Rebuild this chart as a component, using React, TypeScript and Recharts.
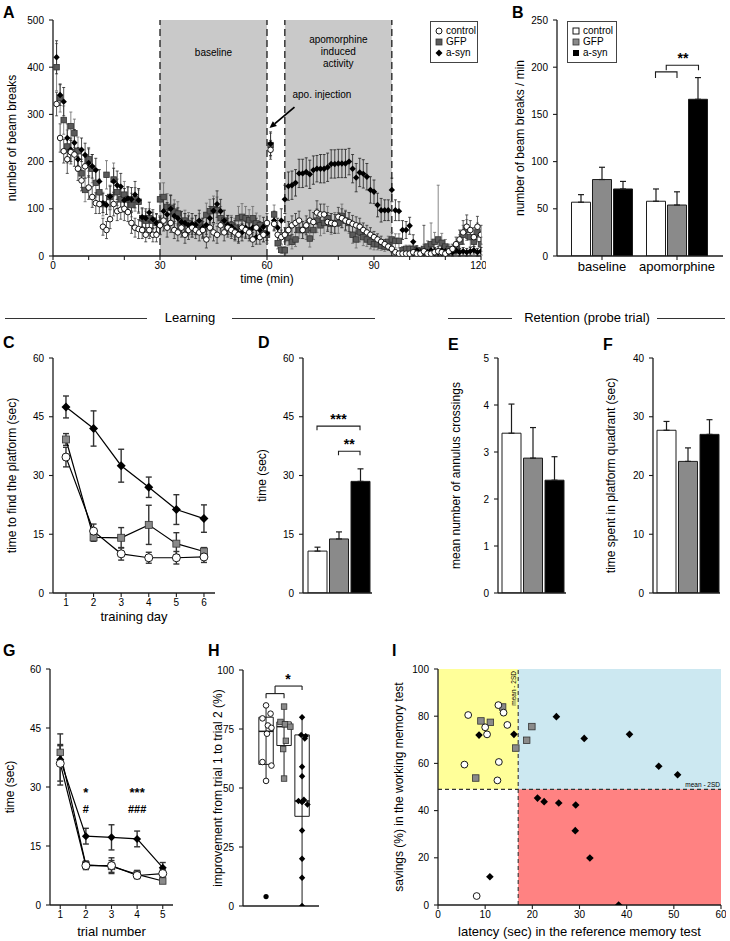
import React from 'react';
import {
  ComposedChart, Bar, Line, Scatter, XAxis, YAxis, ErrorBar,
  ReferenceArea, ReferenceLine, ReferenceDot,
} from 'recharts';

const FONT = '"Liberation Sans", Arial, Helvetica, sans-serif';
const INK = '#1c1c1c';
const SHADE = '#c9c9c9';
const GFP_FILL = '#8a8a8a';
const GFP_DARK = '#5a5a5a';

const groups = ['control', 'GFP', 'a-syn'];

// ---- A: beam breaks per minute (t = 1..120) ----
const minuteTicks = [0, 10, 20, 30, 40, 50, 60, 70, 80, 90, 100, 110, 120];
const breakTicks = [0, 100, 200, 300, 400, 500];
const phaseEdges = [30, 60, 65, 95];

const ctlBreaks = [
  322, 250, 222, 205, 220, 215, 185, 160, 190, 145,
  125, 112, 110, 62, 55, 78, 110, 95, 98, 100,
  93, 70, 60, 57, 55, 45, 55, 45, 45, 65,
  75, 60, 70, 55, 50, 60, 45, 55, 60, 55,
  50, 55, 35, 60, 50, 45, 65, 50, 60, 55,
  50, 45, 60, 55, 50, 35, 60, 40, 45, 70,
  225, 68, 45, 40, 45, 55, 65, 70, 75, 55,
  65, 75, 72, 92, 88, 88, 72, 70, 68, 83,
  80, 75, 72, 68, 65, 62, 55, 50, 45, 40,
  35, 30, 25, 20, 15, 8, 5, 5, 5, 5,
  8, 5, 5, 10, 5, 5, 8, 10, 8, 5,
  10, 15, 25, 35, 50, 62, 55, 40, 62, 45,
];
const ctlBreaksErr = [
  25, 30, 25, 30, 25, 25, 25, 22, 25, 25,
  22, 22, 20, 18, 18, 20, 25, 20, 20, 25,
  20, 22, 20, 20, 18, 15, 18, 15, 15, 20,
  22, 20, 20, 18, 18, 20, 18, 20, 20, 18,
  18, 18, 18, 20, 18, 18, 20, 18, 20, 18,
  18, 18, 20, 18, 18, 15, 20, 15, 15, 20,
  20, 15, 15, 15, 15, 18, 20, 20, 20, 18,
  20, 22, 20, 25, 22, 22, 20, 20, 20, 20,
  20, 20, 20, 18, 18, 18, 15, 15, 15, 12,
  12, 12, 10, 8, 8, 5, 5, 5, 5, 5,
  8, 5, 5, [10, 55], 5, 5, 8, 10, 8, 5,
  8, 10, 15, 20, 25, 25, 20, 20, 22, 20,
];

const gfpBreaks = [
  400, 335, 288, 232, 275, 260, 222, 175, 140, 205,
  185, 155, 135, 110, 172, 125, 162, 135, 120, 130,
  120, 108, 120, 115, 80, 75, 80, 75, 70, 120,
  125, 104, 102, 94, 90, 73, 75, 70, 60, 65,
  70, 60, 87, 95, 99, 97, 80, 75, 65, 66,
  60, 80, 83, 80, 76, 80, 69, 65, 48, 45,
  235, 88, 27, 13, 12, 38, 30, 35, 55, 55,
  55, 37, 55, 75, 65, 70, 80, 68, 70, 70,
  85, 75, 70, 45, 35, 50, 40, 35, 30, 25,
  25, 22, 20, 30, 35, 32, 32, 12, 15, 15,
  15, 12, 10, 15, 20, 25, 30, 35, 28, 20,
  15, 10, 15, 30, 45, 55, 40, 30, 50, 25,
];
const gfpBreaksErr = [
  50, 30, 30, 35, 30, 30, 30, 30, 25, 25,
  30, 30, 28, 25, 30, 25, 35, 28, 25, 28,
  25, 25, 25, 25, 20, 20, 20, 18, 18, 35,
  30, 28, 28, 25, 25, 22, 22, 22, 20, 20,
  20, 20, 25, 25, 28, 28, 25, 22, 20, 20,
  20, 25, 28, 25, 22, 25, 22, 20, 18, 18,
  25, 20, 12, 8, 8, 15, 15, 15, 18, 18,
  20, 18, 20, 25, 22, 22, 25, 22, 22, 22,
  25, 22, 22, 18, 18, 20, 18, 15, 15, 12,
  12, 10, 10, 12, 15, 15, 15, 8, 8, 8,
  8, 8, 8, 10, 12, [20, 45], 20, [30, 115], 20, 15,
  10, 8, 10, 15, 20, 22, 20, 15, 20, 15,
];

const synBreaks = [
  421, 341, 327, 250, 225, 240, 205, 225, 214, 197,
  190, 182, 158, 112, 108, 126, 158, 150, 147, 118,
  122, 120, 130, 118, 82, 80, 92, 78, 70, 64,
  95, 88, 100, 85, 80, 72, 70, 65, 68, 66,
  75, 60, 66, 80, 96, 110, 95, 75, 66, 62,
  55, 48, 50, 60, 55, 60, 40, 55, 62, 48,
  238, 75, 60, 75, 120, 148, 150, 155, 175, 175,
  178, 173, 182, 185, 185, 185, 188, 195, 195, 196,
  196, 196, 200, 185, 166, 177, 174, 168, 140, 136,
  108, 97, 97, 97, 140, 97, 95, 55, 55, 64,
  30, 12, 8, 10, 8, 12, 10, 8, 12, 10,
  10, 8, 12, 8, 10, 8, 10, 12, 8, 10,
];
const synBreaksErr = [
  35, 22, 30, 30, 25, 28, 25, 25, 25, 30,
  25, 25, 25, 20, 20, 22, 28, 30, 28, 25,
  25, 25, 28, 25, 20, 20, 22, 20, 20, 18,
  30, 25, 28, 25, 22, 22, 20, 20, 22, 20,
  22, 20, 20, 25, 25, 28, 25, 22, 20, 20,
  20, 18, 18, 20, 18, 20, 15, 18, 20, 15,
  25, 20, 20, 25, 30, 30, 30, 28, 30, 30,
  30, 30, 30, 28, 30, 30, 30, 30, 30, 30,
  30, 30, 28, 30, 30, 30, 30, 28, 28, 25,
  25, 25, 22, 22, 25, 22, 20, 20, 18, 18,
  15, 10, 8, 8, 8, 8, 8, 8, 8, 8,
  8, 8, 8, 8, 8, 8, 8, 8, 8, 8,
];

// ---- B: mean beam breaks / min ----
const phaseNames = ['baseline', 'apomorphine'];
const rateTicks = [0, 50, 100, 150, 200, 250];
const ctlRate = [57, 58];
const ctlRateErr = [8, 13];
const gfpRate = [81, 54];
const gfpRateErr = [13, 14];
const synRate = [71, 166];
const synRateErr = [8, 23];

// ---- C: learning curve ----
const days = [1, 2, 3, 4, 5, 6];
const secTicks = [0, 15, 30, 45, 60];
const ctlDay = [34.7, 15.8, 10, 9, 9, 9.2];
const ctlDayErr = [2.5, 1.8, 1.6, 1.4, 1.6, 1.4];
const gfpDay = [39.2, 14.2, 14.1, 17.4, 12.6, 10.6];
const gfpDayErr = [1.5, 1, 2.6, 5, 2.8, 1];
const synDay = [47.5, 42, 32.5, 27, 21.3, 19];
const synDayErr = [2.8, 4.5, 4.2, 2.6, 3.8, 3.5];

// ---- D/E/F: group means ----
const latencyMean = [10.7, 13.8, 28.5];
const latencyErr = [1, 1.8, 3.2];
const crossTicks = [0, 1, 2, 3, 4, 5];
const crossMean = [3.4, 2.87, 2.4];
const crossErr = [0.62, 0.65, 0.5];
const quadTicks = [0, 10, 20, 30, 40];
const quadMean = [27.7, 22.4, 27];
const quadErr = [1.5, 2.3, 2.5];

// ---- G: working memory trials ----
const trials = [1, 2, 3, 4, 5];
const ctlTrial = [36, 10, 10, 7.5, 8];
const ctlTrialErr = [4.5, 1, 2, 0.8, 1];
const gfpTrial = [38.8, 10.2, 9.8, 7.8, 6.1];
const gfpTrialErr = [2, 1, 1.5, 1, 0.5];
const synTrial = [37, 17.5, 17.2, 16.8, 9.5];
const synTrialErr = [6.5, 2, 3.2, 2, 1.3];

// ---- H: improvement trial 1 -> 2 (%), x = group + jitter ----
const pctTicks = [0, 25, 50, 75, 100];
const ctlImprove = [
  { x: 1.0, y: 85 }, { x: 1.25, y: 81.5 }, { x: 0.8, y: 79.5 }, { x: 1.1, y: 76.5 }, { x: 1.3, y: 75.5 },
  { x: 1.05, y: 73 }, { x: 0.8, y: 61 }, { x: 1.3, y: 59.5 }, { x: 1.0, y: 53 },
];
const ctlOutlier = [{ x: 1.0, y: 4 }];
const gfpImprove = [
  { x: 2.0, y: 84.5 }, { x: 1.8, y: 78 }, { x: 2.05, y: 77 }, { x: 2.35, y: 76 },
  { x: 2.1, y: 70 }, { x: 1.95, y: 66.5 }, { x: 2.0, y: 54 },
];
const synImprove = [
  { x: 3.0, y: 80 }, { x: 2.95, y: 72.5 }, { x: 3.2, y: 72 }, { x: 3.15, y: 71 }, { x: 3.0, y: 59 },
  { x: 3.0, y: 55 }, { x: 3.1, y: 45 }, { x: 2.8, y: 44.5 }, { x: 3.0, y: 44 }, { x: 3.3, y: 43 },
  { x: 3.0, y: 32 }, { x: 3.0, y: 20 }, { x: 3.0, y: 12 }, { x: 3.0, y: 0 },
];
const boxQ1 = [60, 68, 38];
const boxMedian = [74, 76, 44.5];
const boxQ3 = [80, 78, 72.5];
const boxMin = [53, 54, 0];
const boxMax = [85, 84.5, 80];

// ---- I: latency vs savings ----
const latencyTicks = [0, 10, 20, 30, 40, 50, 60];
const savingsTicks = [0, 20, 40, 60, 80, 100];
const latencyCut = 17;
const savingsCut = 49;
const ctlSavings = [
  { x: 6.4, y: 80.5 }, { x: 12.8, y: 84.7 }, { x: 13.9, y: 81.5 }, { x: 10.0, y: 75.3 }, { x: 14.7, y: 76.3 },
  { x: 10.4, y: 72.3 }, { x: 5.6, y: 59.5 }, { x: 12.9, y: 60.6 }, { x: 12.6, y: 52.8 }, { x: 8.2, y: 3.8 },
];
const gfpSavings = [
  { x: 9.1, y: 78.0 }, { x: 11.1, y: 77.4 }, { x: 13.7, y: 83.9 }, { x: 16.5, y: 66.5 },
  { x: 18.8, y: 69.8 }, { x: 19.9, y: 75.6 }, { x: 8.0, y: 53.8 },
];
const synSavings = [
  { x: 8.7, y: 72.0 }, { x: 16.1, y: 72.3 }, { x: 25.1, y: 79.8 }, { x: 31.0, y: 70.6 }, { x: 40.6, y: 72.3 },
  { x: 46.8, y: 58.8 }, { x: 50.8, y: 55.2 }, { x: 21.1, y: 45.3 }, { x: 22.5, y: 43.8 }, { x: 25.6, y: 43.2 },
  { x: 29.2, y: 42.4 }, { x: 29.1, y: 31.5 }, { x: 32.2, y: 19.9 }, { x: 38.3, y: 0 }, { x: 11.0, y: 12.0 },
];

// ---------- helpers ----------
const frame = (L: number, T: number, R: number, B: number, pl: number, pt: number, pr: number, pb: number) => ({
  style: { position: 'absolute', left: L - pl, top: T - pt } as React.CSSProperties,
  width: pl + (R - L) + pr,
  height: pt + (B - T) + pb,
  margin: { top: pt, right: pr, bottom: 0, left: 0 },
  yw: pl,
  xh: pb,
});

const axisProps = {
  axisLine: { stroke: INK, strokeWidth: 1.3 },
  tickLine: { stroke: INK, strokeWidth: 1.1 },
  tickSize: 4,
  tick: { fontSize: 10, fill: '#000', fontFamily: FONT },
};

const yLabel = (value: string, offset: number, size = 12) => ({
  value, angle: -90, position: 'insideLeft', offset,
  style: { textAnchor: 'middle', fontSize: size, fontFamily: FONT, fill: '#000' },
});
const xLabel = (value: string, offset: number, size = 13) => ({
  value, position: 'insideBottom', offset,
  style: { textAnchor: 'middle', fontSize: size, fontFamily: FONT, fill: '#000' },
});

const openCircle = (r: number) => (p: any) => (
  <circle key={p.index} cx={p.cx} cy={p.cy} r={r} fill="#fff" stroke="#000" strokeWidth={0.9} />
);
const dotCircle = (r: number) => (p: any) => (
  <circle key={p.index} cx={p.cx} cy={p.cy} r={r} fill="#000" />
);
const square = (s: number, fill: string) => (p: any) => (
  <rect key={p.index} x={p.cx - s / 2} y={p.cy - s / 2} width={s} height={s} fill={fill} stroke="#333" strokeWidth={0.8} />
);
const diamond = (h: number) => (p: any) => (
  <polygon key={p.index} points={`${p.cx},${p.cy - h} ${p.cx + h},${p.cy} ${p.cx},${p.cy + h} ${p.cx - h},${p.cy}`} fill="#000" />
);
const note = (text: string, size = 13) => (p: any) => (
  <text x={p.cx} y={p.cy} textAnchor="middle" fontSize={size} fontWeight="bold" fontFamily={FONT} fill="#000">{text}</text>
);
const bracket = (from: number, to: number, leg: number, text: string, textX: number) => (p: any) => (
  <g>
    <path d={`M${p.cx + from},${p.cy + leg}V${p.cy}H${p.cx + to}V${p.cy + leg}`} fill="none" stroke={INK} strokeWidth={1.1} />
    <text x={p.cx + textX} y={p.cy - 2} textAnchor="middle" fontSize={14} fontWeight="bold" fontFamily={FONT}>{text}</text>
  </g>
);

const areaText = (lines: string[], y0: number) => (props: any) => {
  const { x, y, width } = props.viewBox;
  return (
    <text x={x + width / 2} y={y + y0} textAnchor="middle" fontSize={10} fontFamily={FONT} fill="#000">
      {lines.map((l, i) => <tspan key={l} x={x + width / 2} dy={i === 0 ? 0 : 12}>{l}</tspan>)}
    </text>
  );
};

const injectionArrow = (p: any) => {
  const { cx, cy } = p;
  const tx = cx + 25, ty = cy - 21;
  const len = Math.hypot(tx - cx, ty - cy);
  const ux = (tx - cx) / len, uy = (ty - cy) / len;
  const bx = cx + ux * 7, by = cy + uy * 7;
  return (
    <g>
      <line x1={bx} y1={by} x2={tx} y2={ty} stroke="#000" strokeWidth={1.8} />
      <polygon points={`${cx},${cy} ${bx - uy * 3.2},${by + ux * 3.2} ${bx + uy * 3.2},${by - ux * 3.2}`} fill="#000" />
      <text x={cx + 23} y={cy - 30} fontSize={10} fontFamily={FONT}>apo. injection</text>
    </g>
  );
};

const pts = (vals: number[], errs: any[]) => vals.map((v, i) => ({ t: i + 1, v, e: errs[i] }));

function LegendBox({ left, top, width, symbols }: any) {
  return (
    <div style={{
      position: 'absolute', left, top, width, height: 42, border: '1px solid #444', boxSizing: 'border-box',
      padding: '3px 0 0 3px', background: '#fff', fontFamily: FONT,
    }}>
      {groups.map((g, i) => (
        <div key={g} style={{ display: 'flex', alignItems: 'center', height: 11, fontSize: 10, lineHeight: '11px' }}>
          <svg width={10} height={10} style={{ marginRight: 2 }}>{symbols[i]}</svg>{g}
        </div>
      ))}
    </div>
  );
}

// ---------- panels ----------
function PanelA() {
  const f = frame(53, 20, 481, 256, 50, 10, 5, 32);
  return (
    <div style={f.style}>
      <ComposedChart width={f.width} height={f.height} margin={f.margin}>
        <XAxis type="number" dataKey="t" domain={[0, 120]} ticks={minuteTicks} allowDataOverflow height={f.xh}
          tickFormatter={(v: number) => (v % 30 === 0 ? String(v) : '')} {...axisProps}
          label={xLabel('time (min)', 5, 12)} />
        <YAxis type="number" dataKey="v" domain={[0, 500]} ticks={breakTicks} allowDataOverflow width={f.yw}
          tickMargin={5} {...axisProps} label={yLabel('number of beam breaks', 9)} />
        <ReferenceArea x1={30} x2={60} y1={0} y2={500} fill={SHADE} fillOpacity={1} stroke="none"
          label={areaText(['baseline'], 35.5)} />
        <ReferenceArea x1={65} x2={95} y1={0} y2={500} fill={SHADE} fillOpacity={1} stroke="none"
          label={areaText(['apomorphine', 'induced', 'activity'], 22.5)} />
        {phaseEdges.map((x) => (
          <ReferenceLine key={x} x={x} stroke={INK} strokeWidth={1.3} strokeDasharray="7 4" />
        ))}
        <Scatter data={pts(gfpBreaks, gfpBreaksErr)} dataKey="v" shape={square(5.5, GFP_DARK)} isAnimationActive={false}>
          <ErrorBar dataKey="e" direction="y" width={1.5} stroke="#6a6a6a" strokeWidth={0.8} isAnimationActive={false} />
        </Scatter>
        <Scatter data={pts(synBreaks, synBreaksErr)} dataKey="v" shape={diamond(3.2)} isAnimationActive={false}>
          <ErrorBar dataKey="e" direction="y" width={1.5} stroke="#222" strokeWidth={0.8} isAnimationActive={false} />
        </Scatter>
        <Scatter data={pts(ctlBreaks, ctlBreaksErr)} dataKey="v" shape={openCircle(2.8)} isAnimationActive={false}>
          <ErrorBar dataKey="e" direction="y" width={1.5} stroke="#333" strokeWidth={0.8} isAnimationActive={false} />
        </Scatter>
        <ReferenceDot x={60.7} y={271} shape={injectionArrow} />
      </ComposedChart>
    </div>
  );
}

function PanelB() {
  const f = frame(557, 20, 723, 256, 45, 10, 5, 30);
  const data = phaseNames.map((p, i) => ({
    phase: p,
    ctl: ctlRate[i], ctlE: [0, ctlRateErr[i]],
    gfp: gfpRate[i], gfpE: [0, gfpRateErr[i]],
    syn: synRate[i], synE: [0, synRateErr[i]],
  }));
  return (
    <div style={f.style}>
      <ComposedChart width={f.width} height={f.height} margin={f.margin} data={data} barGap={2}>
        <XAxis dataKey="phase" type="category" padding={{ left: 7.5, right: 8.5 }} height={f.xh}
          {...axisProps} tick={{ fontSize: 13, fill: '#000', fontFamily: FONT }} />
        <YAxis type="number" domain={[0, 250]} ticks={rateTicks} allowDataOverflow width={f.yw} tickMargin={5}
          {...axisProps} label={yLabel('number of beam breaks / min', 8)} />
        <Bar dataKey="ctl" barSize={19} fill="#fff" stroke={INK} strokeWidth={1} isAnimationActive={false}>
          <ErrorBar dataKey="ctlE" direction="y" width={3} stroke={INK} strokeWidth={1.2} isAnimationActive={false} />
        </Bar>
        <Bar dataKey="gfp" barSize={19} fill={GFP_FILL} stroke={INK} strokeWidth={1} isAnimationActive={false}>
          <ErrorBar dataKey="gfpE" direction="y" width={3} stroke={INK} strokeWidth={1.2} isAnimationActive={false} />
        </Bar>
        <Bar dataKey="syn" barSize={19} fill="#000" stroke={INK} strokeWidth={1} isAnimationActive={false}>
          <ErrorBar dataKey="synE" direction="y" width={3} stroke={INK} strokeWidth={1.2} isAnimationActive={false} />
        </Bar>
        <ReferenceDot x="apomorphine" y={195} shape={bracket(-21.5, 0, 6, '', 0)} />
        <ReferenceDot x="apomorphine" y={202} shape={bracket(-10.75, 21.5, 5, '**', 6)} />
      </ComposedChart>
    </div>
  );
}

function TrioLines({ f, xs, xDomain, yTicks, ctl, ctlE, gfp, gfpE, syn, synE, xName, xOff, yName, yOff, size, children }: any) {
  const data = xs.map((x: number, i: number) => ({
    x, ctl: ctl[i], ctlE: ctlE[i], gfp: gfp[i], gfpE: gfpE[i], syn: syn[i], synE: synE[i],
  }));
  const eb = { direction: 'y', width: 3, stroke: '#333', strokeWidth: 1.4, isAnimationActive: false };
  return (
    <div style={f.style}>
      <ComposedChart width={f.width} height={f.height} margin={f.margin} data={data}>
        <XAxis type="number" dataKey="x" domain={xDomain} ticks={xs} allowDataOverflow height={f.xh}
          {...axisProps} label={xLabel(xName, xOff)} />
        <YAxis type="number" domain={[0, 60]} ticks={yTicks} allowDataOverflow width={f.yw} tickMargin={5}
          {...axisProps} label={yLabel(yName, yOff)} />
        <Line dataKey="syn" type="linear" stroke="#000" strokeWidth={1.2} dot={diamond(size.d)} isAnimationActive={false}>
          <ErrorBar dataKey="synE" {...eb} />
        </Line>
        <Line dataKey="gfp" type="linear" stroke="#000" strokeWidth={1.2} dot={square(size.s, GFP_FILL)} isAnimationActive={false}>
          <ErrorBar dataKey="gfpE" {...eb} />
        </Line>
        <Line dataKey="ctl" type="linear" stroke="#000" strokeWidth={1.2} dot={openCircle(size.c)} isAnimationActive={false}>
          <ErrorBar dataKey="ctlE" {...eb} />
        </Line>
        {children}
      </ComposedChart>
    </div>
  );
}

function TrioBars({ f, pad, max, ticks, mean, err, yName, yOff, children }: any) {
  const data = [{
    g: 'all',
    ctl: mean[0], ctlE: [0, err[0]],
    gfp: mean[1], gfpE: [0, err[1]],
    syn: mean[2], synE: [0, err[2]],
  }];
  const eb = { direction: 'y', width: 3, stroke: INK, strokeWidth: 1.2, isAnimationActive: false };
  return (
    <div style={f.style}>
      <ComposedChart width={f.width} height={f.height} margin={f.margin} data={data} barGap={2.5}>
        <XAxis dataKey="g" type="category" padding={{ left: pad, right: 0 }} height={f.xh} {...axisProps}
          tick={false} tickLine={false} />
        <YAxis type="number" domain={[0, max]} ticks={ticks} allowDataOverflow width={f.yw} tickMargin={5}
          {...axisProps} label={yLabel(yName, yOff)} />
        <Bar dataKey="ctl" barSize={19} fill="#fff" stroke={INK} strokeWidth={1} isAnimationActive={false}>
          <ErrorBar dataKey="ctlE" {...eb} />
        </Bar>
        <Bar dataKey="gfp" barSize={19} fill={GFP_FILL} stroke={INK} strokeWidth={1} isAnimationActive={false}>
          <ErrorBar dataKey="gfpE" {...eb} />
        </Bar>
        <Bar dataKey="syn" barSize={19} fill="#000" stroke={INK} strokeWidth={1} isAnimationActive={false}>
          <ErrorBar dataKey="synE" {...eb} />
        </Bar>
        {children}
      </ComposedChart>
    </div>
  );
}

function PanelH() {
  const f = frame(243, 670, 319, 906, 48, 10, 5, 30);
  const centers = [1, 2, 3];
  const half = 0.4;
  const seg = (x1: number, y1: number, x2: number, y2: number) => [{ x: x1, y: y1 }, { x: x2, y: y2 }];
  const sig = [
    seg(1, 88, 1, 90), seg(1, 90, 2, 90), seg(2, 90, 2, 88),
    seg(1.5, 90, 1.5, 93.2), seg(1.5, 93.2, 3, 93.2), seg(3, 93.2, 3, 91.5),
  ];
  return (
    <div style={f.style}>
      <ComposedChart width={f.width} height={f.height} margin={f.margin}>
        <XAxis type="number" dataKey="x" domain={[-0.28, 3.94]} allowDataOverflow height={f.xh} {...axisProps}
          tick={false} tickLine={false} />
        <YAxis type="number" dataKey="y" domain={[0, 100]} ticks={pctTicks} allowDataOverflow width={f.yw} tickMargin={5}
          {...axisProps} label={yLabel('improvement from trial 1 to trial 2 (%)', 23)} />
        {centers.map((c, i) => (
          <ReferenceLine key={`w${c}`} segment={seg(c, boxMin[i], c, boxMax[i])} stroke={INK} strokeWidth={1} />
        ))}
        {centers.map((c, i) => (
          <ReferenceArea key={`b${c}`} x1={c - half} x2={c + half} y1={boxQ1[i]} y2={boxQ3[i]}
            fill="#fff" fillOpacity={0} stroke={INK} strokeWidth={1} />
        ))}
        {centers.map((c, i) => (
          <ReferenceLine key={`m${c}`} segment={seg(c - half, boxMedian[i], c + half, boxMedian[i])} stroke={INK} strokeWidth={1.5} />
        ))}
        {sig.map((s, i) => (
          <ReferenceLine key={`s${i}`} segment={s} stroke={INK} strokeWidth={1.1} />
        ))}
        <ReferenceDot x={2.22} y={94} shape={note('*', 14)} />
        <Scatter data={gfpImprove} dataKey="y" shape={square(5.5, GFP_FILL)} isAnimationActive={false} />
        <Scatter data={synImprove} dataKey="y" shape={diamond(3.2)} isAnimationActive={false} />
        <Scatter data={ctlImprove} dataKey="y" shape={openCircle(2.8)} isAnimationActive={false} />
        <Scatter data={ctlOutlier} dataKey="y" shape={dotCircle(2.6)} isAnimationActive={false} />
      </ComposedChart>
    </div>
  );
}

function PanelI() {
  const f = frame(438, 669, 721, 905, 45, 10, 5, 36);
  const vLabel = (props: any) => {
    const { x, y } = props.viewBox;
    return (
      <text x={x - 2.5} y={y + 2} transform={`rotate(-90 ${x - 2.5} ${y + 2})`} textAnchor="end" fontSize={6.5} fontFamily={FONT}>
        mean - 2SD
      </text>
    );
  };
  const hLabel = (props: any) => {
    const { x, y, width } = props.viewBox;
    return (
      <text x={x + width - 1} y={y - 2} textAnchor="end" fontSize={6.5} fontFamily={FONT}>mean - 2SD</text>
    );
  };
  return (
    <div style={f.style}>
      <ComposedChart width={f.width} height={f.height} margin={f.margin}>
        <XAxis type="number" dataKey="x" domain={[0, 60]} ticks={latencyTicks} allowDataOverflow height={f.xh}
          {...axisProps} label={xLabel('latency (sec) in the reference memory test', 5)} />
        <YAxis type="number" dataKey="y" domain={[0, 100]} ticks={savingsTicks} allowDataOverflow width={f.yw} tickMargin={5}
          {...axisProps} label={yLabel('savings (%) in the working memory test', 6)} />
        <ReferenceArea x1={0} x2={latencyCut} y1={savingsCut} y2={100} fill="#ffff99" fillOpacity={1} stroke="none" />
        <ReferenceArea x1={latencyCut} x2={60} y1={savingsCut} y2={100} fill="#cce8f1" fillOpacity={1} stroke="none" />
        <ReferenceArea x1={latencyCut} x2={60} y1={0} y2={savingsCut} fill="#ff8282" fillOpacity={1} stroke="none" />
        <ReferenceLine x={latencyCut} stroke="#333" strokeWidth={1.1} strokeDasharray="4 3" label={vLabel} />
        <ReferenceLine y={savingsCut} stroke="#333" strokeWidth={1.1} strokeDasharray="4 3" label={hLabel} />
        <Scatter data={gfpSavings} dataKey="y" shape={square(6.5, GFP_FILL)} isAnimationActive={false} />
        <Scatter data={synSavings} dataKey="y" shape={diamond(3.8)} isAnimationActive={false} />
        <Scatter data={ctlSavings} dataKey="y" shape={openCircle(3.4)} isAnimationActive={false} />
      </ComposedChart>
    </div>
  );
}

const letter = (t: string, left: number, capTop: number) => (
  <div key={t} style={{
    position: 'absolute', left, top: capTop - 2, fontSize: 16, lineHeight: '16px', fontWeight: 'bold', fontFamily: FONT,
  }}>{t}</div>
);

const rule = (left: number, width: number) => (
  <div style={{ position: 'absolute', left, top: 318, width, height: 0, borderTop: '1px solid #333' }} />
);
const heading = (text: string, center: number) => (
  <div style={{
    position: 'absolute', left: center - 80, width: 160, top: 310, textAlign: 'center', fontSize: 13,
    lineHeight: '16px', fontFamily: FONT,
  }}>{text}</div>
);

export default function App() {
  const symA = [
    <circle cx={5} cy={5} r={3} fill="#fff" stroke="#000" strokeWidth={0.9} />,
    <rect x={2} y={2} width={6} height={6} fill={GFP_DARK} stroke="#333" strokeWidth={0.8} />,
    <polygon points="5,1.5 8.5,5 5,8.5 1.5,5" fill="#000" />,
  ];
  const symB = [
    <rect x={2} y={2} width={6} height={6} fill="#fff" stroke="#000" strokeWidth={0.9} />,
    <rect x={2} y={2} width={6} height={6} fill={GFP_FILL} stroke="#333" strokeWidth={0.8} />,
    <rect x={2} y={2} width={6} height={6} fill="#000" />,
  ];
  const fC = frame(53, 358, 215, 593, 48, 10, 5, 35);
  const fG = frame(50, 669, 173, 905, 48, 10, 5, 36);
  return (
    <div style={{
      position: 'absolute', left: 0, top: 0, width: 730, height: 941, background: '#fff',
      fontFamily: FONT, overflow: 'hidden',
    }}>
      <PanelA />
      <LegendBox left={430} top={21} width={48} symbols={symA} />
      <PanelB />
      <LegendBox left={567} top={21} width={50} symbols={symB} />

      {rule(5, 142)}{heading('Learning', 190)}{rule(232, 143)}
      {rule(448, 64)}{heading('Retention (probe trial)', 587)}{rule(657, 68)}

      <TrioLines f={fC} xs={days} xDomain={[0.53, 6.4]} yTicks={secTicks}
        ctl={ctlDay} ctlE={ctlDayErr} gfp={gfpDay} gfpE={gfpDayErr} syn={synDay} synE={synDayErr}
        xName="training day" xOff={7} yName="time to find the platform (sec)" yOff={7}
        size={{ d: 4.5, s: 7, c: 4 }} />

      <TrioBars f={frame(303, 358, 372, 593, 48, 10, 5, 30)} pad={2} max={60} ticks={secTicks}
        mean={latencyMean} err={latencyErr} yName="time (sec)" yOff={7}>
        <ReferenceDot x="all" y={42.6} shape={bracket(-21.5, 21.5, 4, '***', 0)} />
        <ReferenceDot x="all" y={36.2} shape={bracket(0, 21.5, 4, '**', 10.75)} />
      </TrioBars>
      <TrioBars f={frame(498, 358, 566, 593, 48, 10, 5, 30)} pad={2} max={5} ticks={crossTicks}
        mean={crossMean} err={crossErr} yName="mean number of annulus crossings" yOff={6} />
      <TrioBars f={frame(653, 358, 720, 593, 48, 10, 5, 30)} pad={3} max={40} ticks={quadTicks}
        mean={quadMean} err={quadErr} yName="time spent in platform quadrant (sec)" yOff={6} />

      <TrioLines f={fG} xs={trials} xDomain={[0.6, 5.4]} yTicks={secTicks}
        ctl={ctlTrial} ctlE={ctlTrialErr} gfp={gfpTrial} gfpE={gfpTrialErr} syn={synTrial} synE={synTrialErr}
        xName="trial number" xOff={5} yName="time (sec)" yOff={8}
        size={{ d: 4, s: 6.5, c: 4 }}>
        <ReferenceDot x={2} y={27.4} shape={note('*')} />
        <ReferenceDot x={2} y={23.4} shape={note('#', 11)} />
        <ReferenceDot x={4} y={27.4} shape={note('***')} />
        <ReferenceDot x={4} y={23.4} shape={note('###', 11)} />
      </TrioLines>

      <PanelH />
      <PanelI />

      {letter('A', 3, 7)}{letter('B', 512, 7)}
      {letter('C', 3, 337)}{letter('D', 258, 337)}{letter('E', 448, 339)}{letter('F', 603, 339)}
      {letter('G', 3, 645)}{letter('H', 208, 645)}{letter('I', 392, 645)}
    </div>
  );
}
